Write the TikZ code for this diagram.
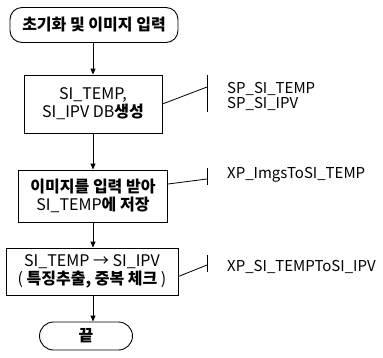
\documentclass[tikz,border=0pt]{standalone}
\usepackage{fontspec}
\setmainfont{Noto Sans CJK KR}
\usetikzlibrary{arrows.meta,calc}
\newcommand{\kb}[1]{\textbf{#1}}
\tikzset{
  box/.style={draw,line width=0.9pt,align=center,inner sep=0pt,font=\fontsize{16}{18}\selectfont},
  term/.style={box,rounded corners=12pt},
  flow/.style={line width=0.9pt,-{Triangle[length=6pt,width=5pt]}},
  lead/.style={line width=0.8pt},
  lbl/.style={anchor=west,inner sep=0pt,align=left,font=\fontsize{15}{15}\selectfont},
}
\begin{document}
\begin{tikzpicture}[x=1pt,y=-1pt]
\useasboundingbox (0,0) rectangle (383,357);
\node[term,minimum width=168pt,minimum height=35pt] (start) at (94,25) {\kb{초기화 및 이미지 입력}};
\node[box,minimum width=138pt,minimum height=58pt] (b1) at (93,104) {SI\_TEMP,\\SI\_IPV DB\kb{생성}};
\node[box,minimum width=149pt,minimum height=52pt] (b2) at (93,196) {\kb{이미지를 입력 받아}\\SI\_TEMP\kb{에 저장}};
\node[box,minimum width=172pt,minimum height=47pt] (b3) at (92,271.5) {SI\_TEMP → SI\_IPV\\( \kb{특징추출, 중복 체크} )};
\node[box,rounded corners=14pt,minimum width=93pt,minimum height=28pt] (end) at (86,336) {\kb{끝}};
\draw[flow] (start.south -| b1.north) -- (b1.north);
\draw[flow] (b1.south) -- (b2.north);
\draw[flow] (b2.south) -- (b2.south |- b3.north);
\draw[flow] (b2.south |- b3.south) -- (b2.south |- end.north);
% brackets
\coordinate (k1) at (207,87);
\coordinate (k2) at (207,179);
\coordinate (k3) at (207,265);
\draw[lead] (207,75) -- (207,112);
\draw[lead] (207,168) -- (207,185);
\draw[lead] (207,255) -- (207,272);
\draw[lead] (b1.east) -- (k1);
\draw[lead] ([yshift=12pt]b2.east) -- (k2);
\draw[lead] ([yshift=-5pt]b3.east) -- (k3);
\node[lbl] (l1) at (227,96) {SP\_SI\_TEMP\\SP\_SI\_IPV};
\node[lbl] (l2) at (227,175) {XP\_ImgsToSI\_TEMP};
\node[lbl] (l3) at (227,267) {XP\_SI\_TEMPToSI\_IPV};
\end{tikzpicture}
\end{document}
